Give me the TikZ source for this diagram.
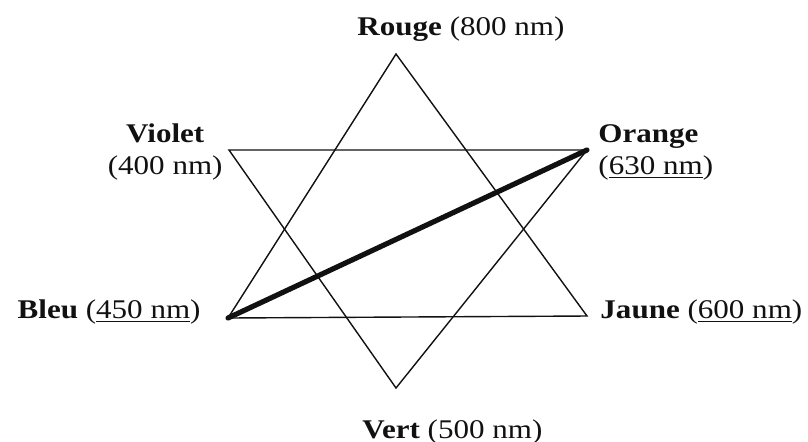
\documentclass[tikz,border=0pt]{standalone}
\usepackage{fontspec}
\setmainfont{Liberation Serif}
\usepackage{xcolor}
\usepackage{tikz}
\usetikzlibrary{positioning}
\definecolor{ink}{HTML}{111111}

\begin{document}
\begin{tikzpicture}[x=0.5pt,y=-0.5pt,
    lbl/.style={font=\fontsize{13.5}{16}\selectfont,inner sep=0pt,xscale=1.15,color=ink},
    edge/.style={draw=ink,line width=0.7pt,line join=miter},
    chord/.style={draw=ink,line width=2.6pt,line cap=round}]
  \useasboundingbox (0,0) rectangle (808,441);
  \clip (0,0) rectangle (808,441);

  % vertices of the two triangles
  \coordinate (rouge)  at (396,54);
  \coordinate (violet) at (229,150);
  \coordinate (orange) at (587,150);
  \coordinate (jaune)  at (587,316);
  \coordinate (vert)   at (396,388);
  \coordinate (bleu)   at (228,318);

  \draw[edge] (rouge) -- (bleu) -- (jaune) -- cycle;
  \draw[edge] (violet) -- (orange) -- (vert) -- cycle;
  \draw[chord] (bleu) -- (orange);

  % labels
  \node[lbl,anchor=base west] (lrouge) at (357,35) {\textbf{Rouge} (800 nm)};
  \node[lbl,anchor=east,align=center] (lviolet) at (223,152)
    {\textbf{Violet}\\(400 nm)};
  \node[lbl,anchor=west,align=left] (lorange) at (598,152)
    {\textbf{Orange}\\(\underline{630 nm})};
  \node[lbl,anchor=base east] (lbleu) at (201,318) {\textbf{Bleu} (\underline{450 nm})};
  \node[lbl,anchor=base west] (ljaune) at (600,318) {\textbf{Jaune} (\underline{600 nm})};
  \node[lbl,anchor=base west] (lvert) at (362,438) {\textbf{Vert} (500 nm)};
\end{tikzpicture}
\end{document}
